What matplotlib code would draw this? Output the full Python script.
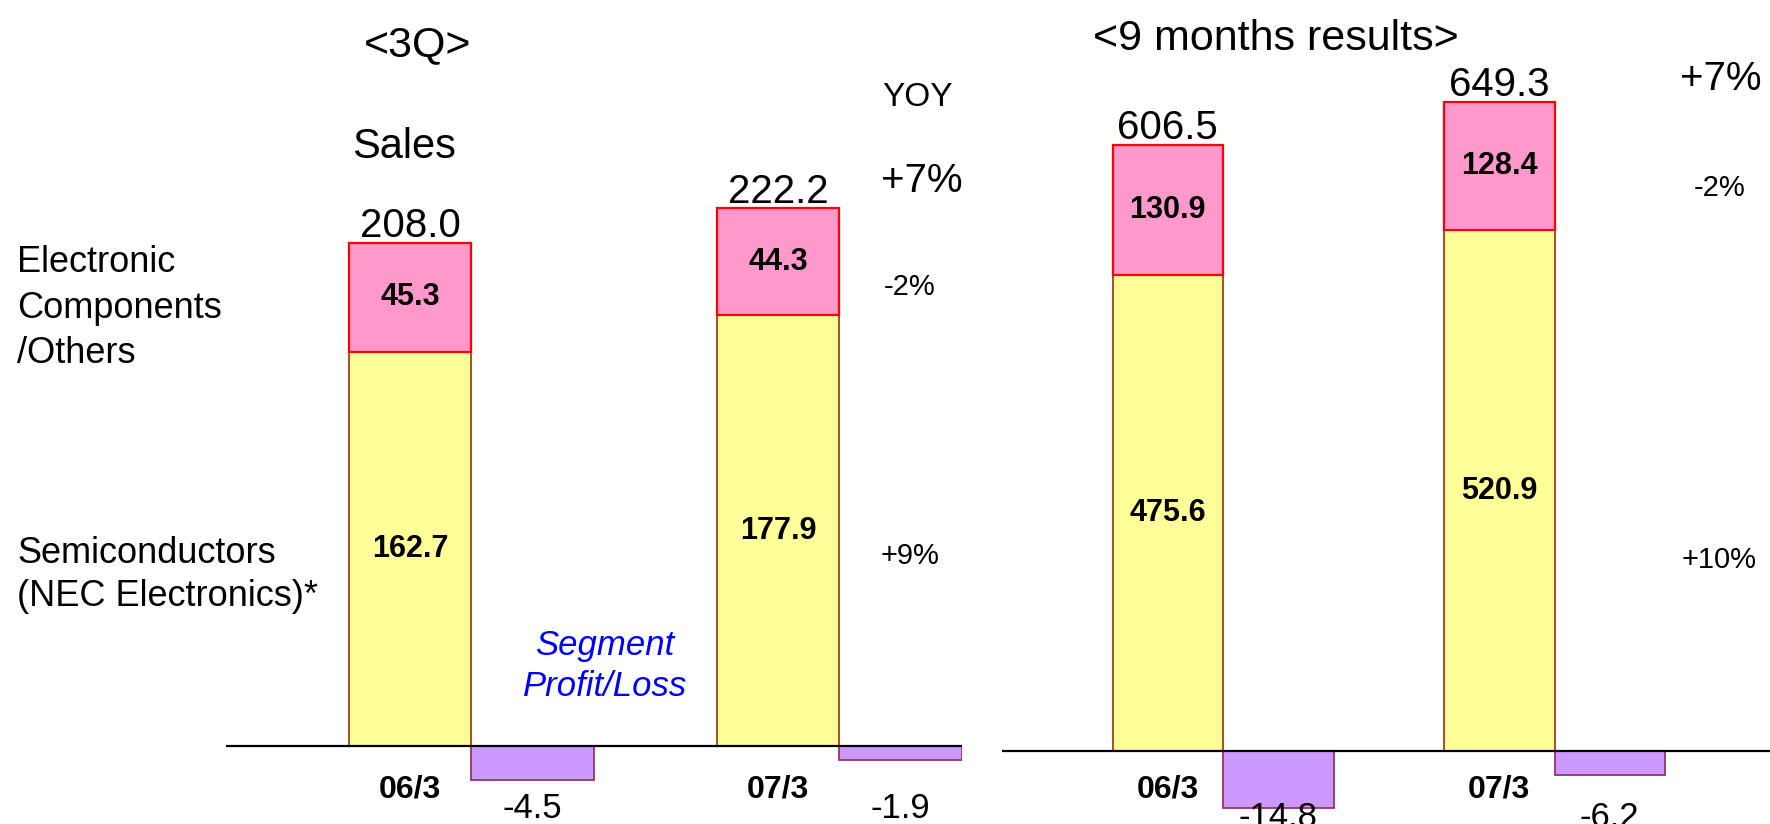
import numpy as np
import matplotlib.pyplot as plt
from matplotlib.transforms import blended_transform_factory

plt.rcParams['font.family'] = ['Liberation Sans', 'DejaVu Sans']

# Data
periods = ["06/3", "07/3"]

# <3Q>
q3_semis = [162.7, 177.9]
q3_others = [45.3, 44.3]
q3_total = [208.0, 222.2]
q3_profit = [-4.5, -1.9]
q3_yoy = ["+7%", "-2%", "+9%"]

# <9 months results>
m9_semis = [475.6, 520.9]
m9_others = [130.9, 128.4]
m9_total = [606.5, 649.3]
m9_profit = [-14.8, -6.2]
m9_yoy = ["+7%", "-2%", "+10%"]

# Style
YELLOW = '#FFFF99'
PINK = '#FF99CC'
PURPLE = '#CC99FF'
W, H = 1770, 824

fig = plt.figure(figsize=(W / 100, H / 100), dpi=100)


def panel(left_px, right_px, xmin, xmax, base_px, sales_ppu, profit_ppu,
          semis, others, total, profit, label_px):
    ax = fig.add_axes([left_px / W, 0, (right_px - left_px) / W, 1])
    ax.set_xlim(xmin, xmax)
    ax.set_ylim(-(H - base_px) / sales_ppu, base_px / sales_ppu)
    ax2 = ax.twinx()
    ax2.set_ylim(-(H - base_px) / profit_ppu, base_px / profit_ppu)
    ax.axis('off')
    ax2.axis('off')

    x = np.arange(len(semis)) * 3
    semis = np.array(semis)
    others = np.array(others)
    ax.bar(x, semis, width=1, color=YELLOW, edgecolor='#A0401A', lw=1.3)
    ax.bar(x, others, bottom=semis, width=1, color=PINK, edgecolor='#FF0000', lw=1.6)
    ax2.bar(x + 1, profit, width=1, color=PURPLE, edgecolor='#993366', lw=1.3)
    ax2.axhline(0, color='black', lw=1.6, zorder=5)

    trans = blended_transform_factory(ax2.transData, fig.transFigure)
    for i, xi in enumerate(x):
        ax.text(xi, semis[i] / 2, f"{semis[i]:.1f}", ha='center', va='center',
                fontsize=22, fontweight='bold')
        ax.text(xi, semis[i] + others[i] / 2, f"{others[i]:.1f}", ha='center',
                va='center', fontsize=22, fontweight='bold')
        ax.annotate(f"{total[i]:.1f}", (xi, total[i]), xytext=(0, 4),
                    textcoords='offset points', ha='center', va='baseline',
                    fontsize=29)
        ax2.text(xi, 1 - 789 / H, periods[i], transform=trans, ha='center',
                 va='center', fontsize=23, fontweight='bold', zorder=6)
        ax2.text(xi + 1, 1 - label_px / H, f"{profit[i]:.1f}", transform=trans,
                 ha='center', va='top', fontsize=25, zorder=6)
    return ax


panel(226, 962, -1.5, 4.5, 746, 2.42, 7.6,
      q3_semis, q3_others, q3_total, q3_profit, 792)
panel(1002, 1770, -1.5, 5.45, 751, 1.0, 3.85,
      m9_semis, m9_others, m9_total, m9_profit, 801)


def ftext(px, py, s, **kw):
    fig.text(px / W, 1 - py / H, s, **kw)


# Titles and annotations
ftext(418, 45, "<3Q>", ha='center', va='center', fontsize=31)
ftext(1276, 39, "<9 months results>", ha='center', va='center', fontsize=31)
ftext(917, 98, "YOY", ha='center', va='center', fontsize=24)
ftext(404, 147, "Sales", ha='center', va='center', fontsize=30)

ftext(922, 181, q3_yoy[0], ha='center', va='center', fontsize=29)
ftext(910, 287, q3_yoy[1], ha='center', va='center', fontsize=21)
ftext(910, 556, q3_yoy[2], ha='center', va='center', fontsize=21)
ftext(1721, 79, m9_yoy[0], ha='center', va='center', fontsize=29)
ftext(1720, 188, m9_yoy[1], ha='center', va='center', fontsize=21)
ftext(1719, 560, m9_yoy[2], ha='center', va='center', fontsize=21)

ftext(17, 308, "Electronic\nComponents\n/Others", ha='left', va='center',
      fontsize=26, linespacing=1.38)
ftext(17, 575, "Semiconductors\n(NEC Electronics)*", ha='left', va='center',
      fontsize=26, linespacing=1.3)
ftext(605, 666, "Segment\nProfit/Loss", ha='center', va='center', fontsize=25,
      style='italic', color='#0000FF', linespacing=1.3)

fig.savefig('out.png', dpi=100)
